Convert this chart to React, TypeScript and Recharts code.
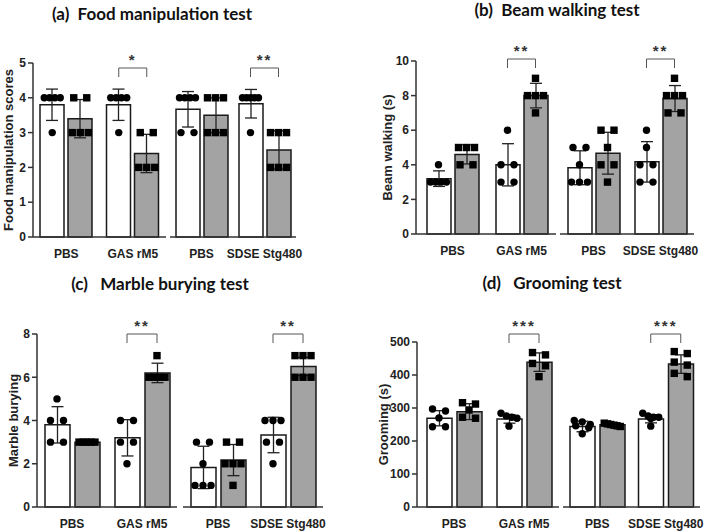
import React from 'react';
import { ComposedChart, Bar, ErrorBar, XAxis, YAxis, Scatter } from 'recharts';

const FONT = '"Liberation Sans", Arial, sans-serif';
const TITLE_FONT = 'Lato, "Open Sans", sans-serif';

// group labels, two per half of each panel
const groups = ['PBS', 'GAS rM5', 'PBS', 'SDSE Stg480'];

// (a) food manipulation
const foodCtrlMean = [3.8, 3.8, 3.67, 3.83];
const foodCtrlSd = [0.45, 0.45, 0.51, 0.41];
const foodInfMean = [3.4, 2.4, 3.5, 2.5];
const foodInfSd = [0.55, 0.55, 0.5, 0.55];
const foodCtrlPts = [[4, 4, 4, 4, 3], [4, 4, 4, 4, 3], [4, 4, 4, 4, 3, 3], [4, 4, 4, 4, 4, 3]];
const foodInfPts = [[4, 4, 3, 3, 3], [3, 3, 2, 2, 2], [4, 4, 4, 3, 3, 3], [3, 3, 3, 2, 2, 2]];
const foodSig = ['*', '**'];

// (b) beam walking
const beamCtrlMean = [3.2, 4.0, 3.83, 4.17];
const beamCtrlSd = [0.45, 1.22, 0.98, 1.17];
const beamInfMean = [4.6, 8.0, 4.67, 7.83];
const beamInfSd = [0.55, 0.71, 1.21, 0.75];
const beamCtrlPts = [[4, 3, 3, 3, 3], [6, 4, 4, 3, 3], [5, 5, 4, 3, 3, 3], [6, 5, 4, 4, 3, 3]];
const beamInfPts = [[5, 5, 5, 4, 4], [9, 8, 8, 8, 7], [6, 6, 5, 4, 4, 3], [9, 8, 8, 8, 7, 7]];
const beamSig = ['**', '**'];

// (c) marble burying
const marbleCtrlMean = [3.8, 3.2, 1.83, 3.33];
const marbleCtrlSd = [0.84, 0.84, 0.98, 0.82];
const marbleInfMean = [3.0, 6.2, 2.17, 6.5];
const marbleInfSd = [0, 0.45, 0.72, 0.42];
const marbleCtrlPts = [[5, 4, 4, 3, 3], [4, 4, 3, 3, 2], [3, 3, 2, 1, 1, 1], [4, 4, 4, 3, 3, 2]];
const marbleInfPts = [[3, 3, 3, 3, 3], [7, 6, 6, 6, 6], [3, 3, 2, 2, 2, 1], [7, 7, 7, 6, 6, 6]];
const marbleSig = ['**', '**'];

// (d) grooming
const groomCtrlMean = [269, 267, 244, 267];
const groomCtrlSd = [23, 13, 16, 12];
const groomInfMean = [289, 439, 249, 433];
const groomInfSd = [24, 28, 6, 28];
const groomCtrlPts = [[297, 291, 270, 243, 243], [284, 276, 272, 269, 245], [262, 258, 250, 246, 240, 222], [284, 276, 272, 272, 268, 245]];
const groomInfPts = [[316, 312, 294, 272, 269], [468, 461, 435, 428, 395], [254, 252, 250, 248, 246, 244], [471, 465, 439, 430, 405, 395]];
const groomSig = ['***', '***'];

interface PanelSpec {
  title: string;
  yLabel: string;
  ctrlMean: number[];
  ctrlSd: number[];
  infMean: number[];
  infSd: number[];
  ctrlPts: number[][];
  infPts: number[][];
  sig: string[];
  yMax: number;
  yTicks: number[];
  tol: number;
  x0: number;
  axisX: number;
  yTop: number;
  yBot: number;
  leftEnd: number;
  leftPad: number;
  rightStart: number;
  rightEnd: number;
  barSize: number;
  barGap: number;
  labelX: number;
  titleX: number;
  titleY: number;
  bracketDy: number;
}

const panels: PanelSpec[] = [
  {
    title: '(a)  Food manipulation test', yLabel: 'Food manipulation scores',
    ctrlMean: foodCtrlMean, ctrlSd: foodCtrlSd, infMean: foodInfMean, infSd: foodInfSd,
    ctrlPts: foodCtrlPts, infPts: foodInfPts, sig: foodSig,
    yMax: 5, yTicks: [0, 1, 2, 3, 4, 5], tol: 0.3,
    x0: 0, axisX: 33, yTop: 63, yBot: 237, leftEnd: 166, leftPad: 0, rightStart: 170, rightEnd: 296,
    barSize: 24, barGap: 4, labelX: 8, titleX: 152, titleY: 13, bracketDy: 5,
  },
  {
    title: '(b)  Beam walking test', yLabel: 'Beam walking (s)',
    ctrlMean: beamCtrlMean, ctrlSd: beamCtrlSd, infMean: beamInfMean, infSd: beamInfSd,
    ctrlPts: beamCtrlPts, infPts: beamInfPts, sig: beamSig,
    yMax: 10, yTicks: [0, 2, 4, 6, 8, 10], tol: 0.3,
    x0: 352, axisX: 416, yTop: 61, yBot: 234, leftEnd: 556, leftPad: 2, rightStart: 560, rightEnd: 694,
    barSize: 24, barGap: 4, labelX: 387, titleX: 557, titleY: 9, bracketDy: -2,
  },
  {
    title: '(c)   Marble burying test', yLabel: 'Marble burying',
    ctrlMean: marbleCtrlMean, ctrlSd: marbleCtrlSd, infMean: marbleInfMean, infSd: marbleInfSd,
    ctrlPts: marbleCtrlPts, infPts: marbleInfPts, sig: marbleSig,
    yMax: 8, yTicks: [0, 2, 4, 6, 8], tol: 0.3,
    x0: 0, axisX: 37, yTop: 334, yBot: 507, leftEnd: 177, leftPad: 0, rightStart: 183, rightEnd: 323,
    barSize: 25, barGap: 5, labelX: 13, titleX: 160, titleY: 283, bracketDy: 0,
  },
  {
    title: '(d)   Grooming test', yLabel: 'Grooming (s)',
    ctrlMean: groomCtrlMean, ctrlSd: groomCtrlSd, infMean: groomInfMean, infSd: groomInfSd,
    ctrlPts: groomCtrlPts, infPts: groomInfPts, sig: groomSig,
    yMax: 500, yTicks: [0, 100, 200, 300, 400, 500], tol: 15,
    x0: 352, axisX: 417, yTop: 342, yBot: 507, leftEnd: 559, leftPad: 2, rightStart: 563, rightEnd: 700,
    barSize: 25, barGap: 5, labelX: 383, titleX: 552, titleY: 282, bracketDy: -8,
  },
];

// spread equal-ish values side by side like a dot plot
function spread(vals: number[], tol: number) {
  const sorted = [...vals].sort((a, b) => b - a);
  const out: { v: number; dx: number }[] = [];
  let k = 0;
  while (k < sorted.length) {
    let j = k;
    while (j + 1 < sorted.length && sorted[k] - sorted[j + 1] <= tol) j++;
    const n = j - k + 1;
    const span = n > 1 ? Math.min((n - 1) * 13, 16) : 0;
    for (let m = 0; m < n; m++) {
      out.push({ v: sorted[k + m], dx: n > 1 ? -span / 2 + (m * span) / (n - 1) : 0 });
    }
    k = j + 1;
  }
  return out;
}

const PointShape = (props: any) => {
  const { cx, cy, payload } = props;
  if (cx == null || cy == null) return null;
  const x = cx + payload.dx;
  if (payload.kind === 'c') return <circle cx={x} cy={cy} r={3.7} fill="#000" />;
  return <rect x={x - 3.7} y={cy - 3.7} width={7.4} height={7.4} fill="#000" />;
};

const makeSigShape = (half: number, dy: number) => (props: any) => {
  const { cx, cy, payload } = props;
  if (cx == null || cy == null) return null;
  const y = cy + dy;
  return (
    <g>
      <path d={`M${cx - half},${y + 9}V${y}H${cx + half}V${y + 9}`} fill="none" stroke="#555" strokeWidth={1} />
      <text x={cx} y={y - 3} textAnchor="middle" fontFamily={FONT} fontWeight="bold" fontSize={15} fill="#333" letterSpacing={2}>
        {payload.label}
      </text>
    </g>
  );
};

const tickStyle = { fontFamily: FONT, fontWeight: 'bold', fontSize: 12, fill: '#222' };

function Half({ p, side }: { p: PanelSpec; side: 0 | 1 }) {
  const idx = side === 0 ? [0, 1] : [2, 3];
  const half = (p.barSize + p.barGap) / 2;
  const rows = idx.map((i) => ({
    cat: groups[i],
    ctrl: p.ctrlMean[i],
    inf: p.infMean[i],
    ctrlSd: p.ctrlSd[i],
    infSd: p.infSd[i],
  }));
  const pts = idx.flatMap((i) => [
    ...spread(p.ctrlPts[i], p.tol).map((s) => ({ cat: groups[i], y: s.v, dx: s.dx - half, kind: 'c' })),
    ...spread(p.infPts[i], p.tol).map((s) => ({ cat: groups[i], y: s.v, dx: s.dx + half, kind: 's' })),
  ]);
  const sigRows = idx
    .filter((i) => i % 2 === 1)
    .map((i) => ({ cat: groups[i], y: p.yMax, label: p.sig[(i - 1) / 2] }));

  const MT = 30;
  const XH = 34;
  const left = side === 0 ? p.x0 : p.rightStart;
  const width = side === 0 ? p.leftEnd - p.x0 : p.rightEnd - p.rightStart;
  const height = p.yBot - p.yTop + MT + XH;

  return (
    <div className="half" style={{ position: 'absolute', left, top: p.yTop - MT }}>
      <ComposedChart
        width={width}
        height={height}
        data={rows}
        margin={{ top: MT, right: 0, bottom: 0, left: 0 }}
        barSize={p.barSize}
        barGap={p.barGap}
      >
        <XAxis
          dataKey="cat"
          type="category"
          allowDuplicatedCategory={false}
          height={XH}
          padding={{ left: side === 0 ? p.leftPad : 0, right: 0 }}
          axisLine={{ stroke: '#333', strokeWidth: 1.5 }}
          tickLine={false}
          tickSize={8}
          tickMargin={4}
          interval={0}
          tick={tickStyle}
        />
        <YAxis
          hide={side === 1}
          domain={[0, p.yMax]}
          ticks={p.yTicks}
          type="number"
          width={p.axisX - p.x0}
          axisLine={{ stroke: '#333', strokeWidth: 1.5 }}
          tickLine={{ stroke: '#333', strokeWidth: 1.5 }}
          tickSize={5}
          tick={tickStyle}
          label={
            side === 0
              ? {
                  value: p.yLabel,
                  angle: -90,
                  position: 'insideLeft',
                  offset: p.labelX - p.x0,
                  style: { textAnchor: 'middle', fontFamily: FONT, fontWeight: 'bold', fontSize: 13, fill: '#222' },
                }
              : undefined
          }
        />
        <Bar dataKey="ctrl" fill="#ffffff" stroke="#1a1a1a" strokeWidth={1.5} isAnimationActive={false}>
          <ErrorBar dataKey="ctrlSd" width={6} stroke="#222" strokeWidth={1.3} direction="y" />
        </Bar>
        <Bar dataKey="inf" fill="#a3a3a3" stroke="#1a1a1a" strokeWidth={1.5} isAnimationActive={false}>
          <ErrorBar dataKey="infSd" width={6} stroke="#222" strokeWidth={1.3} direction="y" />
        </Bar>
        <Scatter data={pts} dataKey="y" shape={PointShape} isAnimationActive={false} />
        <Scatter data={sigRows} dataKey="y" shape={makeSigShape(half, p.bracketDy)} isAnimationActive={false} />
      </ComposedChart>
    </div>
  );
}

export default function App() {
  return (
    <div style={{ position: 'absolute', left: 0, top: 0, width: 709, height: 532, background: '#fff', overflow: 'hidden' }}>
      <style>{'.half svg { overflow: visible; } .half .recharts-wrapper { overflow: visible; }'}</style>
      {panels.map((p, k) => (
        <React.Fragment key={k}>
          <div
            style={{
              position: 'absolute',
              left: p.titleX,
              top: p.titleY,
              transform: 'translate(-50%, -50%)',
              whiteSpace: 'pre',
              fontFamily: TITLE_FONT,
              fontWeight: 'bold',
              fontSize: 17,
              color: '#111',
              lineHeight: 1,
            }}
          >
            {p.title}
          </div>
          <Half p={p} side={0} />
          <Half p={p} side={1} />
        </React.Fragment>
      ))}
    </div>
  );
}
